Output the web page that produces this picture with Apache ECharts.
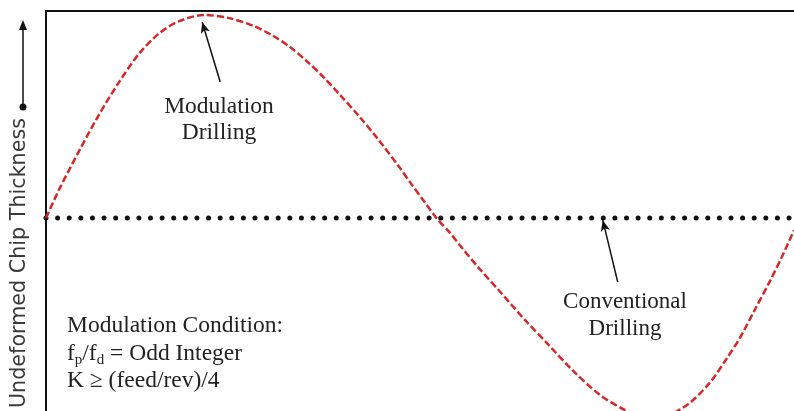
<!DOCTYPE html>
<html>
<head>
<meta charset="utf-8">
<script src="https://cdn.jsdelivr.net/npm/echarts@6/dist/echarts.min.js"></script>
<style>
    html, body {margin: 0; padding: 0; background: #fff;}
    #chart {width: 794px; height: 411px;}
</style>
</head>
<body>
<div id="chart"></div>
<script>
// ------------------ data ------------------
// x: position along the hole (arbitrary units), y: chip thickness (amplitude units)
const modX = [0, 13, 33, 53, 73, 93, 113, 133, 158, 183, 208, 226, 243, 260, 278, 293, 313, 333, 353, 366,
    378, 390, 403, 416, 433, 453, 478, 503, 526, 553, 580, 603, 623, 643, 663, 680, 693, 708, 723, 735, 747];
const modY = [0, 0.14, 0.33, 0.51, 0.67, 0.81, 0.91, 0.97, 1.00, 0.985, 0.945, 0.90, 0.845, 0.775, 0.69, 0.61, 0.50, 0.38, 0.25, 0.16,
    0.08, 0, -0.07, -0.15, -0.25, -0.36, -0.50, -0.63, -0.75, -0.87, -0.95, -1.00, -0.97, -0.91, -0.81, -0.69, -0.59, -0.45, -0.31, -0.19, -0.06];
const convX = [0, 747];
const convY = [0, 0];

// annotation arrows (tail -> head), in data units
const modArrow = [[174, 0.67], [156, 0.965]];
const convArrow = [[571, -0.315], [556, -0.01]];

const SERIF = '"Liberation Serif", "Times New Roman", serif';

function pairs(xs, ys) {
    let out = [];
    for (let i = 0; i < xs.length; i++) {
        out.push([xs[i], ys[i]]);
    }
    return out;
}

function arrowLine(a) {
    return [{coord: a[0]}, {coord: a[1]}];
}

let myChart = echarts.init(document.getElementById('chart'));

let option = {
    animation: false,
    backgroundColor: '#fff',
    grid: {left: 46, right: 0, top: 11, bottom: 0},
    xAxis: {
        type: 'value',
        min: 0,
        max: 747,
        position: 'top',
        axisLine: {onZero: false, lineStyle: {color: '#111', width: 2}},
        axisTick: {show: false},
        axisLabel: {show: false},
        splitLine: {show: false}
    },
    yAxis: {
        type: 'value',
        min: -0.95,
        max: 1.02,
        axisLine: {show: true, onZero: false, lineStyle: {color: '#111', width: 2}},
        axisTick: {show: false},
        axisLabel: {show: false},
        splitLine: {show: false}
    },
    series: [
        {
            name: 'Conventional Drilling',
            type: 'line',
            data: pairs(convX, convY),
            symbol: 'none',
            silent: true,
            lineStyle: {color: '#111', width: 5, type: [0.01, 11.6], cap: 'round'},
            markLine: {
                silent: true,
                symbol: ['none', 'arrow'],
                symbolSize: [7, 11],
                label: {show: false},
                lineStyle: {color: '#111', width: 1.5, type: 'solid'},
                data: [arrowLine(modArrow), arrowLine(convArrow)]
            }
        },
        {
            name: 'Modulation Drilling',
            type: 'line',
            data: pairs(modX, modY),
            symbol: 'none',
            smooth: 0.3,
            silent: true,
            lineStyle: {color: '#d62828', width: 2.5, type: [7, 3]}
        }
    ],
    graphic: [
        // y-axis title with its arrow
        {
            type: 'text',
            x: 20, y: 263,
            rotation: Math.PI / 2,
            style: {
                text: 'Undeformed Chip Thickness',
                font: '20.7px "DejaVu Sans", sans-serif',
                fill: '#3a3a3a',
                align: 'center',
                verticalAlign: 'middle'
            }
        },
        {type: 'line', shape: {x1: 23, y1: 107, x2: 23, y2: 28}, style: {stroke: '#111', lineWidth: 1.5}},
        {type: 'polygon', shape: {points: [[23, 20], [19, 30], [27, 30]]}, style: {fill: '#111'}},
        {type: 'circle', shape: {cx: 23, cy: 107, r: 3.5}, style: {fill: '#111'}},
        // labels
        {
            type: 'text',
            x: 219, y: 94,
            style: {
                text: 'Modulation\nDrilling',
                font: '23.5px ' + SERIF,
                lineHeight: 26,
                fill: '#222',
                align: 'center'
            }
        },
        {
            type: 'text',
            x: 625, y: 288,
            style: {
                text: 'Conventional\nDrilling',
                font: '23px ' + SERIF,
                lineHeight: 27,
                fill: '#222',
                align: 'center'
            }
        },
        {
            type: 'text',
            x: 67, y: 312,
            style: {
                text: '{n|Modulation Condition:}\n{n|f}{s|p}{n|/f}{s|d}{n| = Odd Integer}\n{n|K ≥ (feed/rev)/4}',
                fill: '#222',
                align: 'left',
                rich: {
                    n: {font: '23.5px ' + SERIF, lineHeight: 27.5, fill: '#222'},
                    s: {font: '15px ' + SERIF, lineHeight: 28, fill: '#222', verticalAlign: 'bottom'}
                }
            }
        }
    ]
};

if (option && typeof option === "object") {
    myChart.setOption(option, true);
}
</script>
</body>
</html>
